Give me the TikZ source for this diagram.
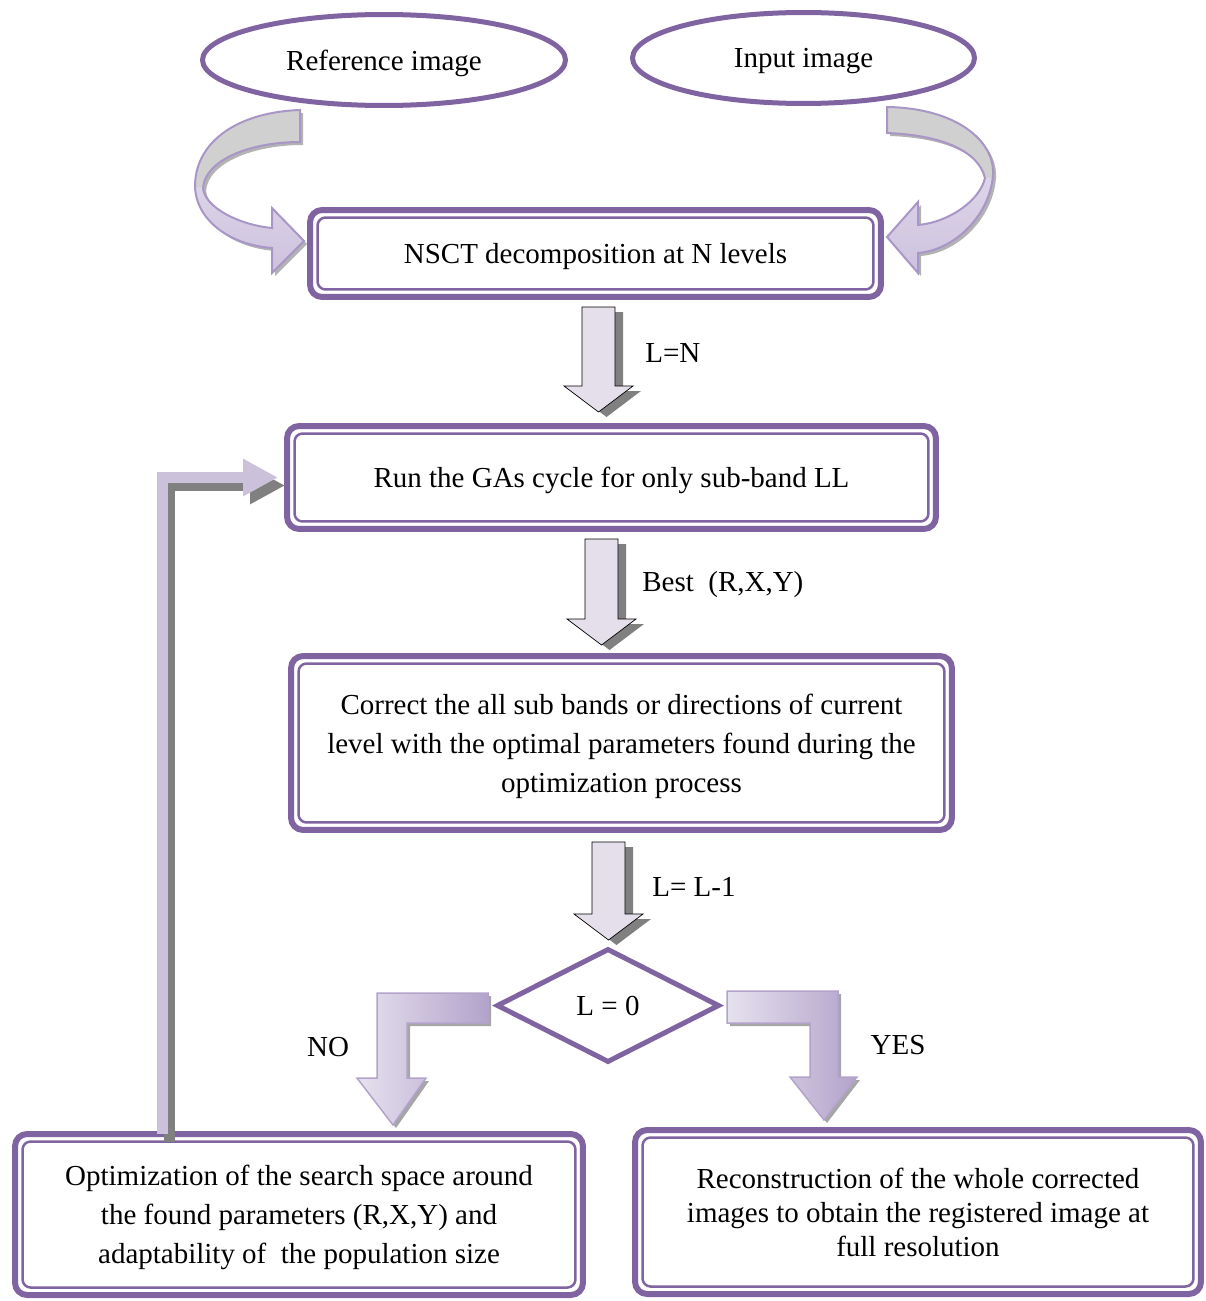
\documentclass[tikz,border=0pt]{standalone}
\usepackage{fontspec}
\setmainfont{Liberation Serif}
\usetikzlibrary{shapes.geometric,arrows.meta,positioning}

\definecolor{framepurple}{HTML}{8064A2}
\definecolor{arrowfill}{HTML}{E5DFEC}
\definecolor{shadowgray}{HTML}{808080}
\definecolor{backlink}{HTML}{CCC1DA}
\definecolor{curlline}{HTML}{A896C6}
\definecolor{curlgray}{HTML}{D0D0D0}
\definecolor{curlhi}{HTML}{E8E3F0}
\definecolor{curllo}{HTML}{CDC2DE}
\definecolor{bendlight}{HTML}{E6E1EE}
\definecolor{benddark}{HTML}{B3A3CB}

\tikzset{
    stage/.style = {draw=framepurple, fill=white, line width=0.12cm, rounded corners=0.24cm, outer sep=0pt, align=center, text depth=0pt, font=\fontsize{16.5}{22.2}\selectfont},
    stage-inner/.style = {draw=framepurple, line width=0.05cm, rounded corners=0.16cm},
    source/.style = {ellipse, draw=framepurple, line width=0.1cm, inner sep=0pt, outer sep=0pt, minimum height=1.82cm, text depth=0pt, font=\fontsize{16.5}{22.2}\selectfont},
    tag/.style = {anchor=west, inner sep=0pt, font=\fontsize{16.5}{22.2}\selectfont},
    feedback/.style = {draw=backlink, line width=0.22cm, -{Triangle[length=0.7cm, width=0.7cm]}, shorten >=0.18cm},
    elbow/.style = {draw=benddark, line width=0.03cm, left color=bendlight, right color=benddark},
    % outlines of the curved and bent arrows
    curl-left/.style = {insert path={(300,110) .. controls (240,112) and (196,140) .. (195,185)
        .. controls (195,220) and (230,245) .. (272,248) -- (272,273) -- (304,241) -- (272,208) -- (272,228)
        .. controls (240,225) and (205,208) .. (203,188) .. controls (205,160) and (250,142) .. (300,142) -- cycle}},
    curl-right/.style = {insert path={(887,107) .. controls (955,108) and (995,140) .. (993,175)
        .. controls (990,215) and (955,250) .. (918,253) -- (918,273) -- (887,237) -- (918,202) -- (918,225)
        .. controls (950,222) and (980,200) .. (985,178) .. controls (978,150) and (940,135) .. (887,133) -- cycle}},
    bend-no/.style = {insert path={(488,993) -- (377,993) -- (377,1078) -- (357,1078) -- (393,1125) -- (426,1078)
        -- (407,1078) -- (407,1023) -- (488,1023) -- cycle}},
    bend-yes/.style = {insert path={(727,991) -- (838,991) -- (838,1077) -- (857,1077) -- (824,1120) -- (790,1077)
        -- (810,1077) -- (810,1023) -- (727,1023) -- cycle}},
    % straight block arrow, #1 = length
    flowarrow/.pic = {
        \fill[shadowgray] (-8.5,{-#1/2+5}) -- (24.5,{-#1/2+5}) -- (24.5,{#1/2-21}) -- (42.5,{#1/2-21})
            -- (8,{#1/2+5}) -- (-26.5,{#1/2-21}) -- (-8.5,{#1/2-21}) -- cycle;
        \draw[black, thin, fill=arrowfill] (-16.5,{-#1/2}) -- (16.5,{-#1/2}) -- (16.5,{#1/2-26}) -- (34.5,{#1/2-26})
            -- (0,{#1/2}) -- (-34.5,{#1/2-26}) -- (-16.5,{#1/2-26}) -- cycle;
    },
}

\begin{document}
\begin{tikzpicture}[x=0.02cm, y=-0.02cm]
\useasboundingbox (0,0) rectangle (1206,1301);

% the two source images
\node[source, minimum width=7.26cm] (ref) at (384,60) {Reference image};
\node[source, minimum width=6.84cm] (inp) at (803.5,58) {Input image};

% curved arrows into the decomposition
\fill[shadowgray!60, transform canvas={shift={(3,3)}}, curl-left];
\fill[shadowgray!60, transform canvas={shift={(3,3)}}, curl-right];
\shade[top color=curlhi, bottom color=curllo, curl-left];
\shade[top color=curlhi, bottom color=curllo, curl-right];
\begin{scope}
    \clip (150,90) rectangle (320,186);
    \fill[curlgray, curl-left];
\end{scope}
\begin{scope}
    \clip (870,90) rectangle (1010,177);
    \fill[curlgray, curl-right];
\end{scope}
\draw[curlline, line width=0.04cm, curl-left];
\draw[curlline, line width=0.04cm, curl-right];

% main stages
\node[stage, minimum width=11.42cm, minimum height=1.74cm] (nsct) at (595.5,253.5) {NSCT decomposition at N levels};
\node[stage, minimum width=12.98cm, minimum height=2.06cm] (ga) at (611.5,477.5) {Run the GAs cycle for only sub-band LL};
\node[stage, minimum width=13.22cm, minimum height=3.48cm] (corr) at (621.5,743) {Correct the all sub bands or directions of current\\level with the optimal parameters found during the\\optimization process};
\node[stage, minimum width=11.36cm, minimum height=3.22cm] (opt) at (299,1214.5) {Optimization of the search space around\\the found parameters (R,X,Y) and\\adaptability of\ \ the population size};
\node[stage, minimum width=11.32cm, minimum height=3.28cm, font=\fontsize{16.5}{19.4}\selectfont] (recon) at (918,1212) {Reconstruction of the whole corrected\\images to obtain the registered image at\\full resolution};
\foreach \b in {nsct,ga,corr,opt,recon}
    \draw[stage-inner] ([shift={(7.5,7.5)}]\b.north west) rectangle ([shift={(-7.5,-7.5)}]\b.south east);

% test on the level
\node[diamond, aspect=2, draw=framepurple, line width=0.1cm, inner sep=0pt, minimum width=4.46cm, minimum height=2.28cm, font=\fontsize{16.5}{22.2}\selectfont] (test) at (608,1005.5) {L = 0};

% block arrows between stages
\pic at (598.5,359.5) {flowarrow=105};
\pic at (601.5,592) {flowarrow=106};
\pic at (608.5,891) {flowarrow=98};
\node[tag] at (645,353) {L=N};
\node[tag] at (642,585) {Best\ \ (R,X,Y)};
\node[tag] at (652,887) {L= L-1};

% bent arrows out of the test
\fill[shadowgray!70, transform canvas={shift={(3,3)}}, bend-no];
\fill[shadowgray!70, transform canvas={shift={(3,3)}}, bend-yes];
\path[elbow, bend-no];
\path[elbow, bend-yes];
\node[tag, anchor=center] at (328,1047) {NO};
\node[tag, anchor=center] at (898,1045) {YES};

% loop back to the GA stage
\coordinate (fb) at (162.5,1134);
\draw[feedback, draw=shadowgray, transform canvas={shift={(7,8)}}] (opt.north -| fb) |- (ga.west);
\draw[feedback] (opt.north -| fb) |- (ga.west);
\end{tikzpicture}
\end{document}
